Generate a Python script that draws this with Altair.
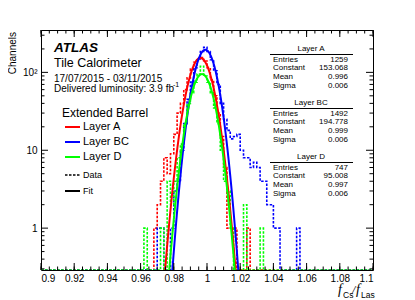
import altair as alt
import pandas as pd

# ---------------- data ----------------
X_MIN, X_MAX = 0.9, 1.1
BIN_W = 0.002
N_BINS = 100
Y_MIN, Y_MAX = 0.29, 350

layer_names = ["Layer A", "Layer BC", "Layer D"]
layer_colors = ["#ff0000", "#0000ff", "#00ff00"]

# counts for bins starting at 0.960 (bin index 30) up to 1.060
FIRST_BIN = 30
counts_A = [0, 0, 0, 0, 1, 2, 4, 8, 5, 9,
            16, 30, 40, 60, 85, 110, 135, 150, 155, 140,
            115, 80, 50, 30, 15, 6, 1, 1, 1, 0,
            0, 0, 1, 0, 0, 0, 0, 0, 0, 0,
            0, 0, 0, 0, 0, 0, 0, 0, 0, 0]
counts_BC = [0, 0, 0, 0, 0, 1, 1, 0, 0, 1,
             3, 4, 10, 22, 45, 75, 115, 150, 185, 210,
             185, 145, 105, 70, 40, 25, 18, 14, 15, 16,
             10, 8, 8, 6, 7, 6, 4, 4, 2, 2,
             1, 1, 0, 0, 0, 0, 0, 1, 0, 0]
counts_D = [0, 1, 0, 0, 0, 0, 1, 0, 4, 2,
            4, 8, 12, 22, 40, 55, 75, 95, 120, 90,
            75, 55, 35, 22, 10, 4, 3, 1, 0, 0,
            0, 2, 0, 0, 0, 0, 1, 0, 0, 0,
            0, 0, 0, 0, 0, 0, 0, 0, 0, 0]
all_counts = [counts_A, counts_BC, counts_D]

fit_const = [153.068, 194.778, 95.008]
fit_mean = [0.996, 0.999, 0.997]
fit_sigma = [0.0060, 0.0055, 0.0058]

stat_entries = ["1259", "1492", "747"]
stat_const = ["153.068", "194.778", "95.008"]
stat_mean = ["0.996", "0.999", "0.997"]
stat_sigma = ["0.006", "0.006", "0.006"]
stat_labels = ["Entries", "Constant", "Mean", "Sigma"]

x_major = [0.9, 0.92, 0.94, 0.96, 0.98, 1.0, 1.02, 1.04, 1.06, 1.08, 1.1]
x_minor = [round(0.9 + 0.005 * i, 3) for i in range(41)]
y_major = [1, 10, 100]
y_minor = [0.3, 0.4, 0.5, 0.6, 0.7, 0.8, 0.9,
           2, 3, 4, 5, 6, 7, 8, 9,
           20, 30, 40, 50, 60, 70, 80, 90, 200, 300]

# ---------------- build ----------------
W, H = 332, 240
FONT = "Liberation Sans"

xs = alt.Scale(domain=[X_MIN, X_MAX], nice=False, zero=False)
ys = alt.Scale(type="log", domain=[Y_MIN, Y_MAX], nice=False)

rows = []
for name, counts in zip(layer_names, all_counts):
    for k in range(N_BINS):
        j = k - FIRST_BIN
        v = counts[j] if 0 <= j < len(counts) else 0
        rows.append({"x": round(X_MIN + k * BIN_W, 4), "y": max(v, Y_MIN), "layer": name})
    rows.append({"x": X_MAX, "y": max(0, Y_MIN), "layer": name})
hist_df = pd.DataFrame(rows)

color_scale = alt.Scale(domain=layer_names, range=layer_colors)

x_axis = alt.Axis(values=x_major, format="~g", ticks=False, domain=False, grid=False,
                  labelFont=FONT, labelFontSize=10, labelPadding=3, labelColor="black",
                  title=None)
y_axis = alt.Axis(values=y_major, ticks=False, domain=False, grid=False,
                  labelExpr="datum.value == 100 ? '10²' : datum.value == 10 ? '10' : '1'",
                  labelFont=FONT, labelFontSize=10, labelPadding=4, labelColor="black",
                  title=None)

X = lambda: alt.X("x:Q", scale=xs, axis=x_axis)
Y = lambda: alt.Y("y:Q", scale=ys, axis=y_axis)

layers = []
for i, name in enumerate(layer_names):
    layers.append(
        alt.Chart(hist_df).transform_filter(alt.datum.layer == name)
        .mark_line(interpolate="step-after", strokeDash=[2.5, 1.5], strokeWidth=1.6, clip=True)
        .encode(x=X(), y=Y(),
                color=alt.Color("layer:N", scale=color_scale, legend=None))
    )

for i, name in enumerate(layer_names):
    c, m, s = fit_const[i], fit_mean[i], fit_sigma[i]
    layers.append(
        alt.Chart(alt.sequence(0.96, 1.04, 0.0002, as_="x"))
        .transform_calculate(y=f"{c}*exp(-0.5*pow((datum.x-{m})/{s},2))")
        .mark_line(strokeWidth=2, clip=True, color=layer_colors[i])
        .encode(x=X(), y=Y())
    )

# inside ticks (ROOT style)
def xticks(vals, length):
    df = pd.DataFrame({"x": vals})
    bot = alt.Chart(df).mark_rule(color="black", strokeWidth=1).encode(
        x=X(), y=alt.value(H), y2=alt.value(H - length))
    top = alt.Chart(df).mark_rule(color="black", strokeWidth=1).encode(
        x=X(), y=alt.value(0), y2=alt.value(length))
    return [bot, top]

def yticks(vals, length):
    df = pd.DataFrame({"y": vals})
    left = alt.Chart(df).mark_rule(color="black", strokeWidth=1).encode(
        y=Y(), x=alt.value(0), x2=alt.value(length))
    right = alt.Chart(df).mark_rule(color="black", strokeWidth=1).encode(
        y=Y(), x=alt.value(W), x2=alt.value(W - length))
    return [left, right]

layers += xticks(x_major, 7) + xticks(x_minor, 3.5) + yticks(y_major, 7) + yticks(y_minor, 3.5)

one = pd.DataFrame({"t": [""]})

def label(text, x, y, size, align="left", baseline="alphabetic", **kw):
    return alt.Chart(pd.DataFrame({"t": [text]})).mark_text(
        x=x, y=y, fontSize=size, font=kw.pop("font", FONT), align=align, baseline=baseline,
        color=kw.pop("color", "black"), **kw).encode(text="t:N")

# header text
layers += [
    label("ATLAS", 13, 22, 13.5, fontWeight="bold", fontStyle="italic"),
    label("Tile Calorimeter", 13, 37, 12.5),
    label("17/07/2015 - 03/11/2015", 13, 52, 10),
    label("Delivered luminosity: 3.9 fb", 13, 62, 10),
    label("-1", 132, 57, 7),
    label("Extended Barrel", 21, 87, 12),
]

# legend
leg_y = [97, 112, 127]
for i, name in enumerate(layer_names):
    layers.append(alt.Chart(one).mark_rule(color=layer_colors[i], strokeWidth=2).encode(
        x=alt.value(24), x2=alt.value(39), y=alt.value(leg_y[i])))
    layers.append(label(name, 42, leg_y[i], 11, baseline="middle"))
layers.append(alt.Chart(one).mark_rule(color="black", strokeWidth=1.6, strokeDash=[2.5, 1.5]).encode(
    x=alt.value(24), x2=alt.value(39), y=alt.value(145)))
layers.append(label("Data", 42, 145, 9, baseline="middle"))
layers.append(alt.Chart(one).mark_rule(color="black", strokeWidth=2).encode(
    x=alt.value(24), x2=alt.value(39), y=alt.value(161)))
layers.append(label("Fit", 42, 161, 9, baseline="middle"))

# stats boxes
for i, name in enumerate(layer_names):
    base = 19 + 54 * i
    layers.append(label(name, 270, base, 8, align="center", baseline="middle"))
    layers.append(alt.Chart(one).mark_rule(color="black", strokeWidth=1).encode(
        x=alt.value(229), x2=alt.value(312), y=alt.value(base + 5.5)))
    vals = [stat_entries[i], stat_const[i], stat_mean[i], stat_sigma[i]]
    for r, (lab, val) in enumerate(zip(stat_labels, vals)):
        yy = base + 10.5 + 8.8 * r
        layers.append(label(lab, 232, yy, 8, baseline="middle"))
        layers.append(label(val, 307, yy, 8, align="right", baseline="middle"))

# axis titles
layers += [
    label("Channels", -25, 2, 10, align="right", angle=270),
    label("f", 297, 264, 14, font="Liberation Serif", fontStyle="italic"),
    label("Cs", 302, 268, 8.5),
    label("/", 311, 264, 12, font="Liberation Serif", fontStyle="italic"),
    label("f", 315, 264, 14, font="Liberation Serif", fontStyle="italic"),
    label("Las", 320, 268, 8.5),
]

chart = alt.layer(*layers).properties(
    width=W, height=H,
    padding={"left": 33, "top": 22, "right": 10, "bottom": 40},
    autosize=alt.AutoSizeParams(type="none"),
).configure_view(stroke="black", strokeWidth=1)

chart.save("out.html", embed_options={"renderer": "svg", "actions": False})
